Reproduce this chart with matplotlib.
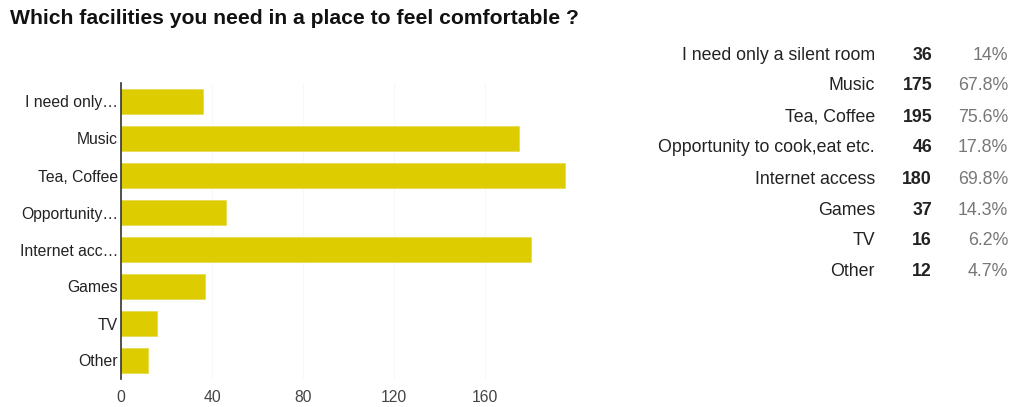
import matplotlib.pyplot as plt

plt.rcParams['font.family'] = ['Liberation Sans', 'DejaVu Sans']

# answers to the survey question
options = ['I need only a silent room', 'Music', 'Tea, Coffee',
           'Opportunity to cook,eat etc.', 'Internet access', 'Games', 'TV', 'Other']
short_labels = ['I need only…', 'Music', 'Tea, Coffee', 'Opportunity…',
                'Internet acc…', 'Games', 'TV', 'Other']
counts = [36, 175, 195, 46, 180, 37, 16, 12]
percents = ['14%', '67.8%', '75.6%', '17.8%', '69.8%', '14.3%', '6.2%', '4.7%']
xticks = [0, 40, 80, 120, 160]

W, H = 1013, 407
fig = plt.figure(figsize=(W / 100, H / 100), dpi=100)
ax = fig.add_axes([121 / W, 1 - 379 / H, 455 / W, 296 / H])

pos = list(range(len(counts)))
ax.barh(pos, counts, height=0.69, color='#dccc00', edgecolor='#e8dc55', linewidth=0.6, zorder=2)
ax.set_ylim(len(counts) - 0.5, -0.5)
ax.set_xlim(0, 200)
ax.set_yticks(pos)
ax.set_yticklabels(short_labels, fontsize=11.3, color='#222222')
ax.set_xticks(xticks)
ax.set_xticklabels([str(t) for t in xticks], fontsize=11.3, color='#444444')
ax.tick_params(length=0, pad=2)
ax.tick_params(axis='x', pad=8)
ax.grid(axis='x', color='#f8f8f8', linewidth=0.8, zorder=0)
for side in ['top', 'right', 'bottom']:
    ax.spines[side].set_visible(False)
ax.spines['left'].set_color('#333333')
ax.spines['left'].set_linewidth(1.2)

fig.text(10 / W, 1 - 19 / H, 'Which facilities you need in a place to feel comfortable ?',
         fontsize=15.2, fontweight='bold', color='#111111', va='center', ha='left')

# summary table on the right
for i, (name, n, p) in enumerate(zip(options, counts, percents)):
    y = 1 - (55 + i * 31) / H
    fig.text(875 / W, y, name, fontsize=12.8, color='#222222', ha='right', va='center')
    fig.text(932 / W, y, str(n), fontsize=12.8, fontweight='bold', color='#222222', ha='right', va='center')
    fig.text(1008 / W, y, p, fontsize=12.8, color='#777777', ha='right', va='center')

fig.savefig('out.png', dpi=100, facecolor='white')
